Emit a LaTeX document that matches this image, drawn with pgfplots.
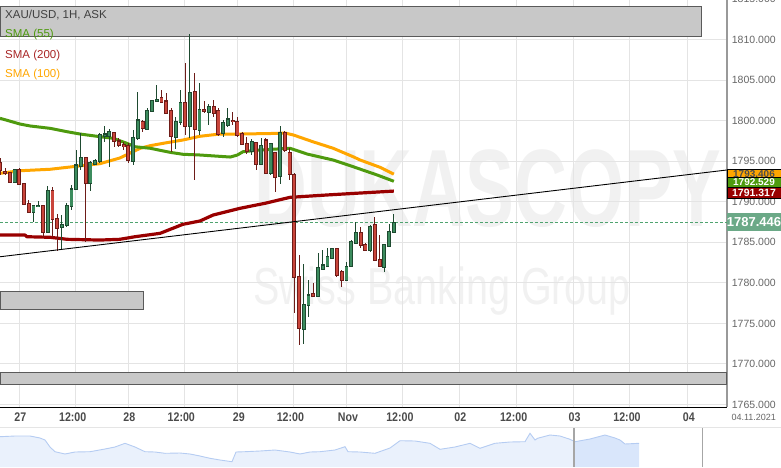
\documentclass[border=0pt]{standalone}
\usepackage{fontspec}
\setmainfont{Liberation Sans}
\usepackage{pgfplots}
\pgfplotsset{compat=1.18}
\usepackage{pgfplotstable}

\definecolor{gbody}{HTML}{3C8C5E}
\definecolor{gline}{HTML}{1E4A30}
\definecolor{rbody}{HTML}{C9453B}
\definecolor{rline}{HTML}{6E1C18}
\definecolor{sma55}{HTML}{4E9A0E}
\definecolor{sma100}{HTML}{FFA600}
\definecolor{sma200}{HTML}{990000}
\definecolor{band}{HTML}{C8C8C8}
\definecolor{bandline}{HTML}{5A5A5A}
\definecolor{gridc}{HTML}{E4E4E4}
\definecolor{pricegreen}{HTML}{6BA987}
\definecolor{dashgreen}{HTML}{4FA36F}
\definecolor{wm}{HTML}{F1F1F1}
\definecolor{labgray}{HTML}{666666}
\definecolor{daygray}{HTML}{4A4A4A}
\definecolor{navfill}{HTML}{EAF1FC}
\definecolor{navsel}{HTML}{D9E6FB}
\definecolor{navline}{HTML}{B5CCF2}

% x o h l c  (x = hourly candle index, 27 Oct 00:00 = 0)
\pgfplotstableread{
x o h l c
-1 1792.44 1794.05 1792.35 1794.01
3 1788.70 1789.55 1787.54 1789.52
4 1789.39 1790.13 1789.32 1789.56
6 1786.18 1791.95 1786.11 1791.45
9 1786.80 1788.37 1784.05 1787.22
10 1787.05 1789.81 1786.92 1789.52
11 1789.39 1792.07 1788.98 1791.58
12 1791.54 1796.39 1791.45 1794.54
13 1794.33 1798.45 1793.92 1795.49
15 1792.28 1795.03 1791.37 1794.87
16 1794.66 1795.28 1794.54 1795.12
17 1794.94 1798.45 1794.75 1798.24
18 1798.03 1799.35 1797.41 1798.36
19 1798.11 1798.94 1794.33 1798.64
24 1794.94 1798.85 1794.54 1797.95
25 1797.83 1803.58 1797.62 1800.09
27 1798.98 1801.60 1798.85 1801.32
28 1801.11 1802.60 1801.04 1802.55
29 1802.34 1804.40 1802.27 1802.68
33 1797.90 1800.49 1796.51 1799.96
34 1799.80 1803.79 1799.47 1802.27
36 1799.26 1810.66 1797.83 1803.50
38 1798.85 1804.61 1798.24 1801.44
40 1801.04 1802.02 1799.47 1801.81
43 1798.45 1800.09 1798.03 1799.80
44 1799.38 1801.53 1799.26 1800.21
49 1796.26 1797.74 1795.77 1797.41
51 1794.62 1797.83 1794.54 1796.92
53 1793.51 1797.29 1793.30 1797.13
55 1793.09 1799.35 1792.19 1798.52
60 1774.27 1782.32 1772.46 1777.39
61 1777.27 1780.35 1775.82 1778.50
63 1778.29 1783.72 1778.22 1781.92
64 1781.71 1784.05 1781.58 1782.20
65 1782.08 1784.26 1781.99 1783.22
66 1783.03 1784.30 1782.90 1784.26
69 1780.35 1782.61 1780.26 1782.08
70 1781.99 1785.28 1781.92 1785.07
71 1784.88 1787.54 1784.79 1786.18
74 1783.96 1787.13 1783.84 1787.01
77 1781.92 1784.79 1781.37 1784.67
78 1784.54 1787.26 1784.46 1786.31
79 1786.18 1788.49 1786.11 1787.45
}\greentab

\pgfplotstableread{
x o h l c
-4 1794.91 1795.36 1793.30 1793.92
-3 1793.80 1794.13 1793.30 1793.51
-2 1793.59 1793.71 1792.28 1792.35
0 1794.01 1794.13 1792.07 1792.15
1 1792.28 1792.32 1789.60 1789.73
2 1789.81 1790.22 1788.65 1788.70
5 1789.52 1789.56 1785.69 1786.18
7 1791.45 1791.78 1785.69 1787.84
8 1787.96 1788.49 1783.96 1786.73
14 1795.49 1795.56 1785.07 1792.28
20 1798.57 1798.64 1796.79 1797.41
21 1797.50 1797.90 1796.79 1796.92
22 1797.09 1797.37 1796.39 1796.79
23 1797.00 1797.29 1794.75 1795.15
26 1799.88 1800.09 1798.64 1799.06
30 1802.84 1803.79 1802.15 1802.22
31 1802.43 1803.38 1800.79 1800.91
32 1801.23 1801.53 1796.10 1798.03
35 1802.27 1807.08 1798.24 1799.26
37 1803.58 1805.85 1792.69 1798.98
39 1801.44 1802.43 1800.91 1801.11
41 1801.81 1802.55 1800.49 1800.91
42 1801.20 1801.60 1798.15 1798.32
45 1800.09 1801.04 1799.47 1799.88
46 1799.96 1800.49 1798.03 1798.24
47 1798.45 1798.57 1797.00 1797.09
48 1797.21 1798.03 1795.86 1796.18
50 1797.34 1797.41 1793.92 1794.62
52 1797.62 1797.83 1793.43 1793.51
54 1796.05 1796.18 1791.24 1793.02
56 1798.57 1798.73 1796.18 1796.30
57 1796.05 1796.60 1792.69 1793.39
58 1793.39 1793.51 1776.24 1780.68
59 1780.76 1783.43 1772.33 1774.39
62 1778.71 1779.94 1778.29 1778.38
67 1784.26 1784.30 1780.76 1780.97
68 1781.37 1781.58 1779.45 1780.35
72 1786.18 1786.92 1784.26 1784.67
73 1784.79 1784.95 1783.93 1783.96
75 1787.26 1788.08 1782.73 1782.82
76 1782.90 1785.90 1781.99 1782.08
}\redtab

\begin{document}
\begin{tikzpicture}[x=1pt,y=1pt]
\useasboundingbox (0,0) rectangle (781,467);

% watermark
\node[text=wm, font=\fontsize{110}{110}\selectfont\bfseries, xscale=0.665, inner sep=0] at (488,278) {DUKASCOPY};
\node[text=wm, font=\fontsize{52}{52}\selectfont, xscale=0.76, inner sep=0] at (442,176) {Swiss Banking Group};

\begin{axis}[
  at={(0pt,59.7pt)}, anchor=south west,
  scale only axis, width=726.7pt, height=407.3pt,
  xmin=-4.07, xmax=149.2, ymin=1764.65, ymax=1814.89,
  clip=false,
  axis x line*=bottom, axis y line*=right,
  x axis line style={black, line width=1.6pt},
  y axis line style={gray!80, line width=1.6pt},
  major tick length=0pt,
  grid=major,
  major grid style={gridc, line width=1pt},
  ytick={1765,1770,...,1810},
  yticklabel pos=right,
  /pgf/number format/assume math mode=true,
  yticklabel style={/pgf/number format/.cd, fixed, fixed zerofill, precision=3, 1000 sep={}, /tikz/.cd,
     anchor=west, xshift=5pt, inner sep=0pt, font=\fontsize{10.5}{12}\selectfont, text=labgray},
  xtick={0,23.0,46.1,69.1,92.8,116.9,141.0},
  xticklabels={27,28,29,Nov,02,03,04},
  xticklabel style={anchor=center, yshift=-9.6pt, xshift=1pt, font=\fontsize{12.5}{14}\selectfont\bfseries, text=daygray, xscale=0.85},
  extra x ticks={11.9,34.8,57.8,80.9,104.9,128.8},
  extra x tick labels={12:00,12:00,12:00,12:00,12:00,12:00},
  extra x tick style={grid=major, tick label style={font=\fontsize{9}{10}\selectfont, text=labgray, xshift=-4pt, xscale=1}},
]

% gray zones
\addplot[fill=band, draw=bandline, line width=0.9pt] coordinates {(-4.07,1810.36) (143.97,1810.36) (143.97,1814.06) (-4.07,1814.06)} -- cycle;
\addplot[fill=band, draw=bandline, line width=0.9pt] coordinates {(-4.07,1776.77) (26.1,1776.77) (26.1,1778.99) (-4.07,1778.99)} -- cycle;
\addplot[fill=band, draw=bandline, line width=0.9pt] coordinates {(-4.07,1767.48) (149.2,1767.48) (149.2,1768.96) (-4.07,1768.96)} -- cycle;

% current price line
\addplot[dashgreen, line width=0.9pt, dash pattern=on 3pt off 2pt] coordinates {(-4.07,1787.446) (149.2,1787.446)};

% SMA 200
\addplot[sma200, line width=3.2pt, line join=round] coordinates {
(-4.07,1785.90) (1.2,1785.90) (1.6,1785.69) (6.5,1785.62) (10.1,1785.37) (17.0,1785.28) (21.2,1785.37) (24.4,1785.69) (29.7,1786.11) (34.5,1787.22) (38.1,1787.63) (40.9,1788.37) (46.6,1789.20) (51.8,1789.81) (57.1,1790.55) (64.9,1790.84) (71.9,1791.08) (79,1791.32)};
% SMA 100
\addplot[sma100, line width=3pt, line join=round] coordinates {
(-4.07,1793.51) (0.15,1793.83) (6.5,1794.01) (11.3,1794.33) (17.0,1794.70) (21.2,1795.40) (25.5,1796.60) (27.6,1796.92) (31.1,1797.29) (34.5,1797.62) (38.1,1798.08) (41.9,1798.33) (46.6,1798.36) (52.9,1798.42) (56.1,1798.48) (57.8,1798.24) (61.9,1797.41) (66.2,1796.60) (70.4,1795.56) (71.9,1795.15) (76.1,1794.25) (79,1793.41)};
% SMA 55
\addplot[sma55, line width=3pt, line join=round] coordinates {
(-4.07,1800.30) (0.15,1799.59) (2.3,1799.35) (6.5,1799.06) (10.1,1798.64) (12.8,1798.36) (17.0,1798.03) (19.8,1797.83) (22.7,1797.21) (24.4,1796.79) (27.6,1796.60) (31.8,1796.10) (34.5,1795.86) (38.1,1795.77) (44.5,1795.52) (46.0,1795.77) (47.2,1796.18) (50.8,1796.39) (57.1,1796.60) (60.7,1795.89) (66.2,1795.15) (70.4,1794.33) (75.5,1793.30) (79,1792.53)};

% wicks
\addplot[draw=none, mark=none, error bars/.cd, y dir=both, y explicit, error mark=none,
  error bar style={draw=gline, solid, line width=1pt}]
  table[x=x, y expr={(\thisrow{h}+\thisrow{l})/2}, y error expr={(\thisrow{h}-\thisrow{l})/2}] {\greentab};
\addplot[draw=none, mark=none, error bars/.cd, y dir=both, y explicit, error mark=none,
  error bar style={draw=rline, solid, line width=1pt}]
  table[x=x, y expr={(\thisrow{h}+\thisrow{l})/2}, y error expr={(\thisrow{h}-\thisrow{l})/2}] {\redtab};
% bodies outline
\addplot[draw=none, mark=none, error bars/.cd, y dir=both, y explicit, error mark=none,
  error bar style={draw=gline, solid, line width=3.9pt}]
  table[x=x, y expr={(\thisrow{o}+\thisrow{c})/2}, y error expr={abs(\thisrow{o}-\thisrow{c})/2+0.07}] {\greentab};
\addplot[draw=none, mark=none, error bars/.cd, y dir=both, y explicit, error mark=none,
  error bar style={draw=rline, solid, line width=3.9pt}]
  table[x=x, y expr={(\thisrow{o}+\thisrow{c})/2}, y error expr={abs(\thisrow{o}-\thisrow{c})/2+0.07}] {\redtab};
% bodies fill
\addplot[draw=none, mark=none, error bars/.cd, y dir=both, y explicit, error mark=none,
  error bar style={draw=gbody, solid, line width=2.2pt}]
  table[x=x, y expr={(\thisrow{o}+\thisrow{c})/2}, y error expr={max(abs(\thisrow{o}-\thisrow{c})/2-0.06,0)}] {\greentab};
\addplot[draw=none, mark=none, error bars/.cd, y dir=both, y explicit, error mark=none,
  error bar style={draw=rbody, solid, line width=2.2pt}]
  table[x=x, y expr={(\thisrow{o}+\thisrow{c})/2}, y error expr={max(abs(\thisrow{o}-\thisrow{c})/2-0.06,0)}] {\redtab};

% trend line
\addplot[black, line width=0.9pt] coordinates {(-4.07,1783.22) (149.2,1793.92)};

% partly visible top price label
\node[anchor=west, xshift=5pt, inner sep=0pt, font=\fontsize{10.5}{12}\selectfont, text=labgray] at (axis cs:149.2,1815) {1815.000};

% price boxes on the right
\node[anchor=west, fill=sma100, draw=black, line width=0.6pt, minimum width=54pt, minimum height=10pt, inner sep=0pt, font=\fontsize{10}{10}\selectfont\bfseries, text=black!70] at (axis cs:149.2,1793.406) {1793.406};
\node[anchor=west, fill=sma55, draw=black, line width=0.6pt, minimum width=54pt, minimum height=10pt, inner sep=0pt, font=\fontsize{10}{10}\selectfont\bfseries, text=white] at (axis cs:149.2,1792.40) {1792.529};
\node[anchor=west, fill=sma200, draw=black, line width=0.6pt, minimum width=54pt, minimum height=11pt, inner sep=0pt, font=\fontsize{10.5}{10}\selectfont\bfseries, text=white] at (axis cs:149.2,1791.10) {1791.317};
\node[anchor=west, fill=pricegreen, minimum width=54pt, minimum height=18pt, inner sep=0pt, font=\fontsize{13}{14}\selectfont\bfseries, text=white] at (axis cs:149.2,1787.446) {1787.446};
\end{axis}

% navigator
\begin{axis}[
  at={(0pt,0pt)}, anchor=south west,
  scale only axis, width=781pt, height=39pt,
  xmin=0, xmax=781, ymin=0, ymax=39, hide axis, clip=true]
\addplot[fill=navfill, draw=none] coordinates {
(0,30.3)(15,31)(30,31)(40,29)(45,27)(50,20)(55,15.3)(65,13)(75,15)(90,15.3)(105,18)(115,20)(125,23.7)(135,20)(145,15.3)(155,15)(165,13.7)(180,14)(190,13)(200,11)(210,8.7)(220,7)(232,5.3)(236,15)(245,15.3)(260,16)(275,17)(290,15)(300,13)(310,15)(320,15.3)(335,17)(345,20.3)(348,15.3)(360,15)(375,13.7)(390,19)(400,26.3)(415,26)(430,23.7)(440,17.7)(455,20)(470,23.7)(480,18.7)(495,23.7)(510,25)(525,25.3)(530,33.7)(535,27)(537.5,28.7)(550,32)(560,31)(570,27.7)(574,25.5)} \closedcycle;
\addplot[fill=navsel, draw=none] coordinates {
(574,25.5)(575,25.3)(590,28)(605,32)(615,29)(620,27)(625,23)(639,23.7)} \closedcycle;
\addplot[navline, line width=0.9pt] coordinates {
(0,30.3)(15,31)(30,31)(40,29)(45,27)(50,20)(55,15.3)(65,13)(75,15)(90,15.3)(105,18)(115,20)(125,23.7)(135,20)(145,15.3)(155,15)(165,13.7)(180,14)(190,13)(200,11)(210,8.7)(220,7)(232,5.3)(236,15)(245,15.3)(260,16)(275,17)(290,15)(300,13)(310,15)(320,15.3)(335,17)(345,20.3)(348,15.3)(360,15)(375,13.7)(390,19)(400,26.3)(415,26)(430,23.7)(440,17.7)(455,20)(470,23.7)(480,18.7)(495,23.7)(510,25)(525,25.3)(530,33.7)(535,27)(537.5,28.7)(550,32)(560,31)(570,27.7)(575,25.3)(590,28)(605,32)(615,29)(620,27)(625,23)(639,23.7)};
\addplot[gray!70, line width=1.2pt] coordinates {(574,0) (574,39)};
\addplot[gray!70, line width=1.2pt] coordinates {(702.5,0) (702.5,39)};
\end{axis}
\draw[gray!20, line width=0.8pt] (0,39.3) -- (781,39.3);

% legend
\node[anchor=west, inner sep=0, font=\fontsize{11.5}{12}\selectfont, text=black!75] at (5,452) {XAU/USD, 1H, ASK};
\node[anchor=west, inner sep=0, font=\fontsize{11.5}{12}\selectfont, text=sma55] at (5,432) {SMA (55)};
\node[anchor=west, inner sep=0, font=\fontsize{11.5}{12}\selectfont, text=sma200!85!white] at (5,411.5) {SMA (200)};
\node[anchor=west, inner sep=0, font=\fontsize{11.5}{12}\selectfont, text=sma100] at (5,392) {SMA (100)};
% date
\node[inner sep=0, font=\fontsize{9}{10}\selectfont, text=labgray] at (753.7,49.5) {04.11.2021};
\end{tikzpicture}
\end{document}
